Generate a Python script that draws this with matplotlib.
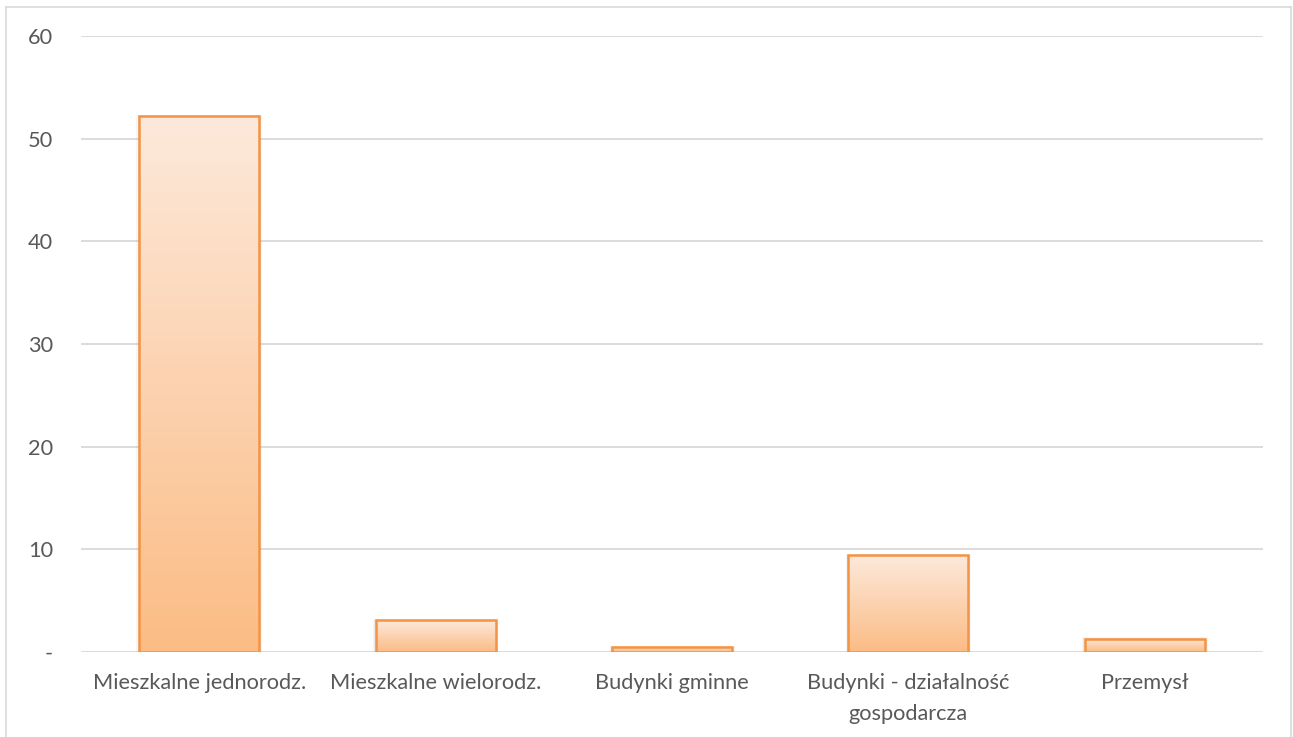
import numpy as np
import matplotlib.pyplot as plt
from matplotlib.colors import LinearSegmentedColormap
from matplotlib.patches import Rectangle
from matplotlib.lines import Line2D

categories = ["Mieszkalne jednorodz.", "Mieszkalne wielorodz.", "Budynki gminne",
              "Budynki - działalność\ngospodarcza", "Przemysł"]
values = [52.2, 3.1, 0.5, 9.4, 1.3]
yticks = [0, 10, 20, 30, 40, 50, 60]
ytick_labels = ["-", "10", "20", "30", "40", "50", "60"]

plt.rcParams['font.family'] = ['Lato', 'DejaVu Sans']

fig = plt.figure(figsize=(12.93, 7.37), dpi=100)
ax = fig.add_axes([81 / 1293, 85 / 737, 1182 / 1293, 616 / 737])

# ramka wykresu (dół poza obrazkiem)
for xs, ys in [([6, 6], [0, 730]), ([6, 1291], [730, 730]), ([1291, 1291], [730, 0])]:
    fig.add_artist(Line2D([x / 1293 for x in xs], [y / 737 for y in ys],
                          color="#D9D9D9", lw=1.2, transform=fig.transFigure))

ax.set_ylim(0, 60)
ax.set_xlim(-0.5, len(categories) - 0.5)
for s in ax.spines.values():
    s.set_visible(False)
ax.set_yticks(yticks)
ax.set_yticklabels(ytick_labels)
ax.yaxis.grid(True, color="#D9D9D9", lw=1.3)
ax.set_axisbelow(True)
ax.tick_params(length=0, labelsize=15.7, labelcolor="#595959")
ax.tick_params(axis="y", pad=20)
ax.tick_params(axis="x", pad=15)
ax.set_xticks(range(len(categories)))
ax.set_xticklabels(categories, linespacing=1.7)

cmap = LinearSegmentedColormap.from_list("grad", ["#FBBC85", "#FDE9DB"])
grad = np.linspace(0, 1, 256).reshape(-1, 1)
w = 0.507
for i, v in enumerate(values):
    x0 = i - w / 2
    # cień pod słupkiem
    for k, a in [(0.04, 0.035), (0.02, 0.05)]:
        ax.add_patch(Rectangle((x0 - k * 0.3, -0.3), w + k * 0.6, v + 0.3 + k * 3,
                               facecolor="#000000", alpha=a, lw=0, zorder=2))
    ax.imshow(grad, cmap=cmap, origin="lower", aspect="auto",
              extent=(x0, x0 + w, 0, v), zorder=3)
    ax.bar(i, v, width=w, facecolor="none", edgecolor="#F39343", lw=1.8, zorder=4)

ax.set_xlim(-0.5, len(categories) - 0.5)
ax.set_ylim(0, 60)

fig.savefig("out.png", dpi=100)
